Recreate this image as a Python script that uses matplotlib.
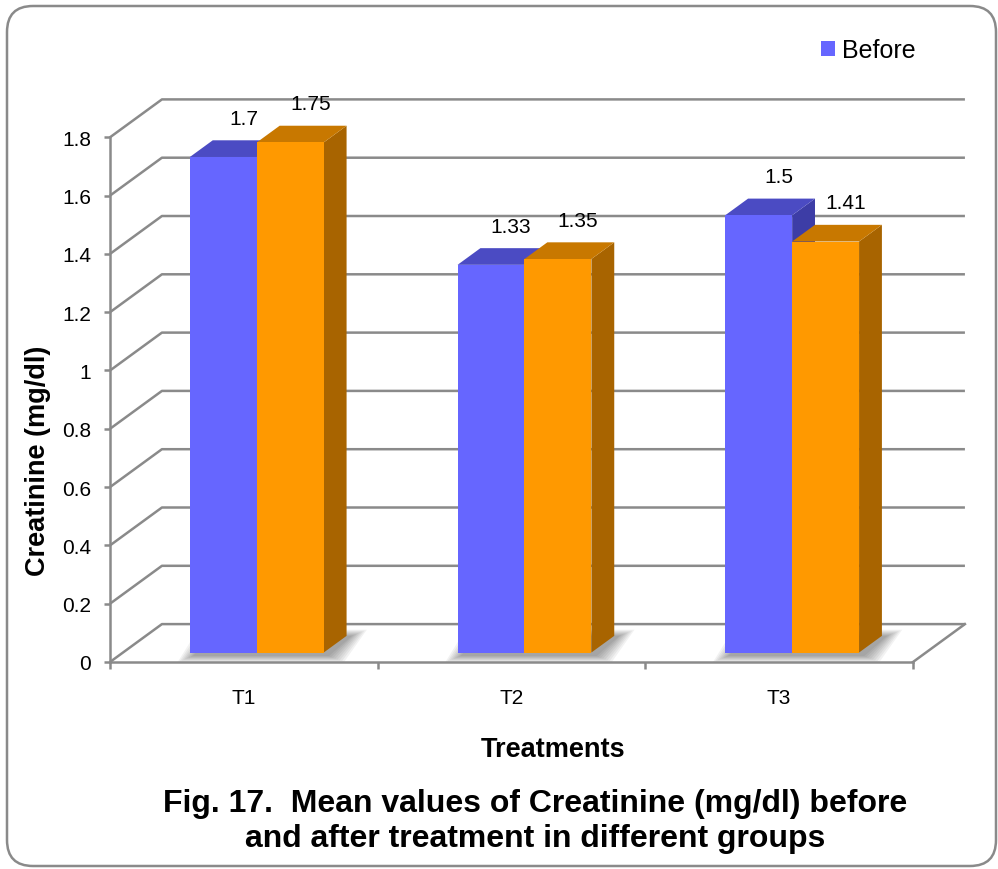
import numpy as np
import matplotlib
matplotlib.use("Agg")
import matplotlib.pyplot as plt
from matplotlib.patches import FancyBboxPatch, Polygon
from matplotlib.transforms import IdentityTransform

plt.rcParams['font.family'] = ['Liberation Sans', 'DejaVu Sans']

# data
groups = ["T1", "T2", "T3"]
before = [1.7, 1.33, 1.5]
after = [1.75, 1.35, 1.41]
yticks = [0, 0.2, 0.4, 0.6, 0.8, 1.0, 1.2, 1.4, 1.6, 1.8]
ytick_labels = ["0", "0.2", "0.4", "0.6", "0.8", "1", "1.2", "1.4", "1.6", "1.8"]

grey = "#8a8a8a"
# front, top, side colours of each series
blue = ("#6666ff", "#4b4bc3", "#3d3da6")
orange = ("#ff9900", "#c87800", "#a86400")

fig = plt.figure(figsize=(9.98, 8.7), dpi=100)
ax = fig.add_axes([110/998, (870-663)/870, 803/998, 1.8*291.5/870])
ax.set_xlim(0, 3)
ax.set_ylim(0, 1.8)

# depth of the 3d box (data units) and position of bars inside it
DX, DY = 0.194, 0.130
f0, fd = 0.25, 0.44
ox, oy = DX*f0, DY*f0
bx, by = DX*fd, DY*fd
w = 0.25

# back wall + left wall gridlines
for v in yticks:
    ax.plot([0, DX, 3+DX], [v, v+DY, v+DY], color=grey, lw=1.8, clip_on=False, zorder=1,
            solid_capstyle='butt')
ax.plot([3, 3+DX], [0, DY], color=grey, lw=1.8, clip_on=False, zorder=1)

x = np.arange(len(groups)) + 0.5

# soft shadows under bar pairs
for xc in x:
    x0 = xc - w + ox
    x1 = xc + w + ox
    for k in range(8):
        ex = 0.008*k
        ey = 0.003*k
        pts = [(x0 - ex + 0.01, oy - 0.012 - ey), (x1 + ex + 0.02, oy - 0.012 - ey),
               (x1 + bx + ex + 0.02, oy + by + ey), (x0 + bx - ex, oy + by + ey)]
        ax.add_patch(Polygon(pts, closed=True, facecolor="black", edgecolor="none",
                             alpha=0.05, zorder=2, clip_on=False))


def box3d(left, h, cols, z):
    right = left + w
    top = h + oy
    side = [(right, oy), (right + bx, oy + by), (right + bx, top + by), (right, top)]
    lid = [(left, top), (right, top), (right + bx, top + by), (left + bx, top + by)]
    ax.add_patch(Polygon(side, closed=True, facecolor=cols[2], edgecolor="none", zorder=z, clip_on=False))
    ax.add_patch(Polygon(lid, closed=True, facecolor=cols[1], edgecolor="none", zorder=z, clip_on=False))


lefts_b = x - w + ox
lefts_a = x + ox
for i in range(len(groups)):
    box3d(lefts_b[i], before[i], blue, 3)
bars_b = ax.bar(lefts_b, before, width=w, bottom=oy, align='edge', color=blue[0], zorder=3,
                clip_on=False, linewidth=0)
for i in range(len(groups)):
    box3d(lefts_a[i], after[i], orange, 4)
bars_a = ax.bar(lefts_a, after, width=w, bottom=oy, align='edge', color=orange[0], zorder=4,
                clip_on=False, linewidth=0)

# value labels
for lefts, vals in ((lefts_b, before), (lefts_a, after)):
    for l, v in zip(lefts, vals):
        ax.text(l + w/2 + 0.075, v + oy + by + 0.0755, f"{v:g}", ha='center', va='center',
                fontsize=15, zorder=6)

# axes styling
for s in ("top", "right"):
    ax.spines[s].set_visible(False)
for s in ("left", "bottom"):
    ax.spines[s].set_color(grey)
    ax.spines[s].set_linewidth(1.8)
ax.spines["left"].set_zorder(5)
ax.spines["bottom"].set_zorder(5)
ax.set_yticks(yticks)
ax.set_yticklabels(ytick_labels)
ax.tick_params(axis='y', length=4.3, width=1.8, color=grey, pad=9.4, labelsize=15)
ax.set_xticks([0, 1, 2, 3])
ax.set_xticklabels([])
ax.set_xticks(x, minor=True)
ax.set_xticklabels(groups, minor=True)
ax.tick_params(axis='x', which='major', length=5, width=1.8, color=grey)
ax.tick_params(axis='x', which='minor', length=0, pad=19, labelsize=15)

fig.text(38/998, 1-461/870, "Creatinine (mg/dl)", rotation=90, ha='center', va='center',
         fontsize=19.5, fontweight='bold')
fig.text(553/998, 1-750/870, "Treatments", ha='center', va='center', fontsize=19.5,
         fontweight='bold')
fig.text(535/998, 1-812/870, "Fig. 17.  Mean values of Creatinine (mg/dl) before",
         ha='center', va='baseline', fontsize=23, fontweight='bold')
fig.text(535/998, 1-847/870, "and after treatment in different groups",
         ha='center', va='baseline', fontsize=23, fontweight='bold')

fig.legend(handles=[bars_b], labels=["Before"], loc='center left',
           bbox_to_anchor=(821/998, 1-51/870), frameon=False, fontsize=18,
           handlelength=0.56, handleheight=0.56, handletextpad=0.3, borderpad=0,
           borderaxespad=0)

fig.add_artist(FancyBboxPatch((7, 3), 989, 860, boxstyle="round,pad=0,rounding_size=26",
                              transform=IdentityTransform(), facecolor="none",
                              edgecolor=grey, linewidth=1.8))

fig.savefig("out.png", dpi=100)
